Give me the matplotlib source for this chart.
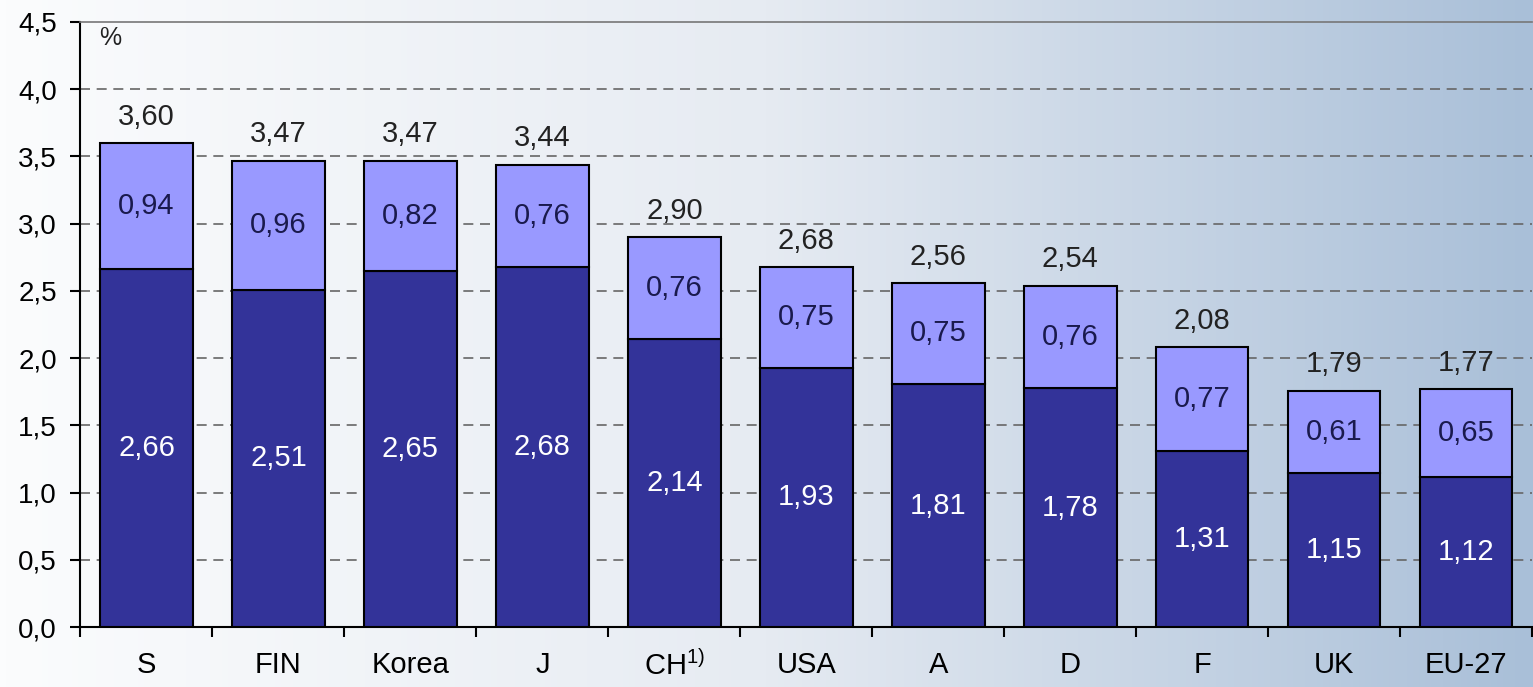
import numpy as np
import matplotlib.pyplot as plt
from matplotlib.colors import LinearSegmentedColormap

# Datos
paises = ["S", "FIN", "Korea", "J", "CH$^{\\mathregular{1)}}$", "USA", "A", "D", "F", "UK", "EU-27"]
empresas = [2.66, 2.51, 2.65, 2.68, 2.14, 1.93, 1.81, 1.78, 1.31, 1.15, 1.12]
publico = [0.94, 0.96, 0.82, 0.76, 0.76, 0.75, 0.75, 0.76, 0.77, 0.61, 0.65]
totales = [3.60, 3.47, 3.47, 3.44, 2.90, 2.68, 2.56, 2.54, 2.08, 1.79, 1.77]

def coma(v):
    return f"{v:.2f}".replace(".", ",")

plt.rcParams['font.family'] = ['Liberation Sans', 'DejaVu Sans']

fig = plt.figure(figsize=(15.33, 6.87), dpi=100)

# Fondo degradado blanco -> azul claro
fondo = fig.add_axes([0, 0, 1, 1], zorder=-10)
cmap = LinearSegmentedColormap.from_list("bg", ["#fbfcfd", "#e6ebf2", "#a9bfd8"])
grad = np.linspace(0, 1, 256).reshape(1, -1)
fondo.imshow(grad, aspect="auto", cmap=cmap, extent=[0, 1, 0, 1])
fondo.axis("off")

ax = fig.add_axes([0.0525, 0.087, 0.947, 0.881])
ax.patch.set_alpha(0)

x = np.arange(len(paises))
ancho = 0.7
ax.bar(x, empresas, ancho, color="#333399", edgecolor="black", linewidth=1.5, zorder=3)
ax.bar(x, publico, ancho, bottom=empresas, color="#9999ff", edgecolor="black", linewidth=1.5, zorder=3)

for i in range(len(paises)):
    ax.text(x[i], empresas[i] / 2, coma(empresas[i]), ha="center", va="center",
            color="white", fontsize=21, zorder=4)
    ax.text(x[i], empresas[i] + publico[i] / 2, coma(publico[i]), ha="center", va="center",
            color="#1a1a4d", fontsize=21, zorder=4)
    ax.text(x[i], empresas[i] + publico[i] + 0.09, coma(totales[i]), ha="center", va="bottom",
            color="#222222", fontsize=21, zorder=4)

ax.set_xlim(-0.5, len(paises) - 0.5)
ax.set_ylim(0, 4.5)
ax.set_yticks(np.arange(0, 4.51, 0.5))
ax.set_yticklabels([f"{v:.1f}".replace(".", ",") for v in np.arange(0, 4.51, 0.5)])
ax.set_xticks(x)
ax.set_xticklabels(paises)
ax.set_xticks(np.arange(-0.5, len(paises), 1), minor=True)
ax.tick_params(axis="x", which="major", length=0, labelsize=21, pad=17)
ax.tick_params(axis="x", which="minor", length=7, width=1.5, direction="out")
ax.tick_params(axis="y", labelsize=20, length=7, width=1.5, direction="out", pad=10)

for v in np.arange(0.5, 4.01, 0.5):
    ax.axhline(v, color="#666666", linestyle=(0, (6, 4)), linewidth=1.2, zorder=1)

ax.spines["right"].set_visible(False)
ax.spines["top"].set_color("#777777")
ax.spines["top"].set_linewidth(1.2)
ax.spines["left"].set_linewidth(1.5)
ax.spines["bottom"].set_linewidth(1.5)

ax.text(-0.36, 4.47, "%", ha="left", va="top", fontsize=18, color="#222222")

fig.savefig("out.png", dpi=100)
